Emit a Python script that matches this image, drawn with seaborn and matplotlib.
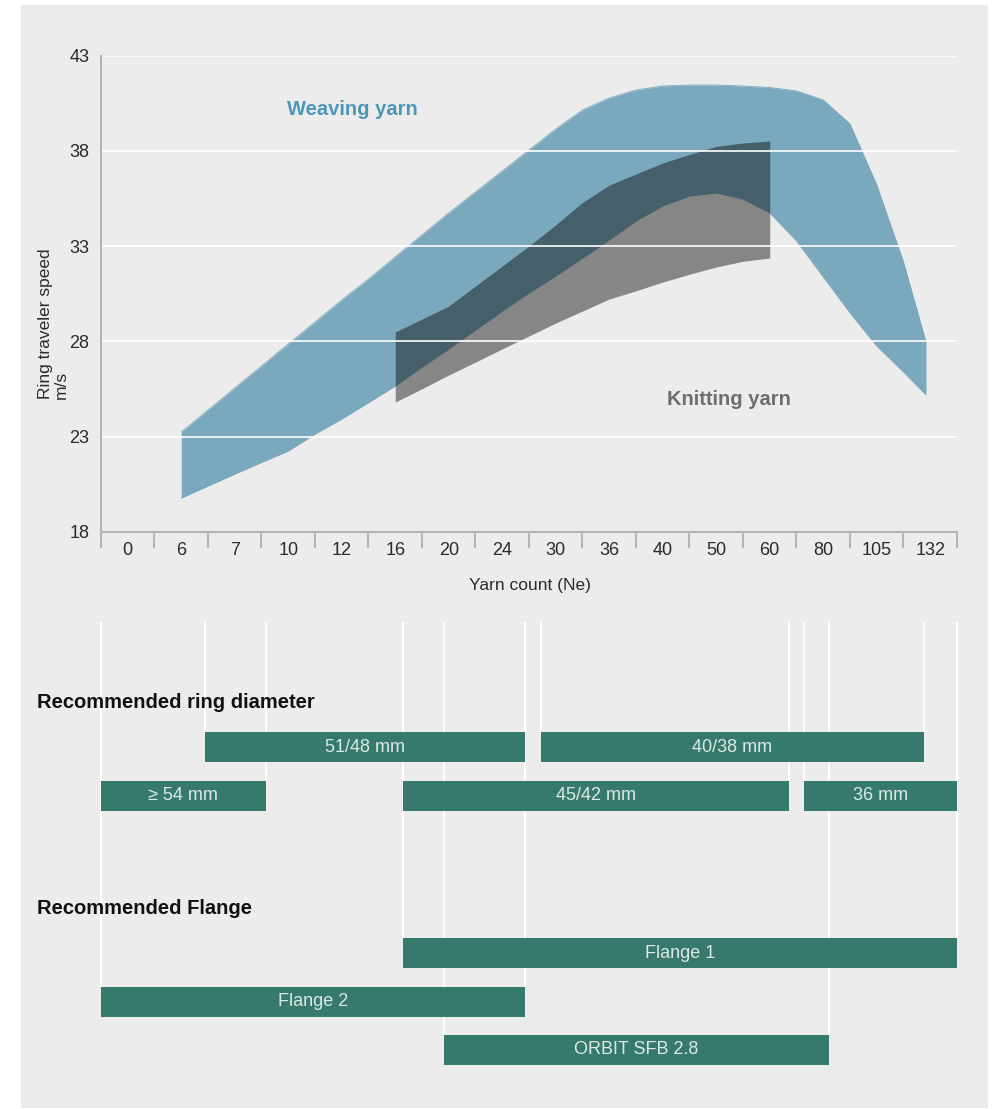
import numpy as np
import matplotlib
matplotlib.use("Agg")
import matplotlib.pyplot as plt
from matplotlib.patches import Rectangle
import seaborn as sns

# ---------------- data ----------------
categories = ['0', '6', '7', '10', '12', '16', '20', '24', '30', '36', '40', '50', '60', '80', '105', '132']

# Weaving yarn band, sampled every half category (category i spans [i, i+1])
weave_pos = [1.5, 2.0, 2.5, 3.0, 3.5, 4.0, 4.5, 5.0, 5.5, 6.0, 6.5, 7.0, 7.5, 8.0, 8.5,
             9.0, 9.5, 10.0, 10.5, 11.0, 11.5, 12.0, 12.5, 13.0, 13.5, 14.0, 14.5, 15.0, 15.42]
weave_upper = [23.25, 24.40, 25.56, 26.71, 27.87, 29.02, 30.18, 31.28, 32.44, 33.59, 34.75,
               35.85, 36.95, 38.05, 39.15, 40.15, 40.78, 41.20, 41.41, 41.46, 41.46, 41.41,
               41.33, 41.15, 40.68, 39.42, 36.22, 32.17, 27.97]
weave_lower = [19.78, 20.41, 21.04, 21.65, 22.25, 23.14, 23.93, 24.79, 25.66, 26.66, 27.61,
               28.60, 29.60, 30.55, 31.44, 32.38, 33.33, 34.33, 35.12, 35.64, 35.80, 35.48,
               34.75, 33.28, 31.39, 29.50, 27.76, 26.40, 25.20]

# Knitting yarn band
knit_pos = [5.5, 6.0, 6.5, 7.0, 7.5, 8.0, 8.5, 9.0, 9.5, 10.0, 10.5, 11.0, 11.5, 12.0, 12.5]
knit_upper = [28.50, 29.18, 29.86, 30.91, 31.96, 33.01, 34.12, 35.30, 36.21, 36.79, 37.37,
              37.82, 38.24, 38.42, 38.52]
knit_lower = [24.82, 25.52, 26.24, 26.92, 27.61, 28.29, 28.97, 29.60, 30.23, 30.66, 31.12,
              31.53, 31.91, 32.21, 32.38]

y_ticks = [18, 23, 28, 33, 38, 43]

# Recommended ring diameter (ranges on the yarn-count axis)
ring_labels = ['51/48 mm', '40/38 mm', '\u2265 54 mm', '45/42 mm', '36 mm']
ring_start = [1.94, 8.22, 0.0, 5.64, 13.14]
ring_end = [7.93, 15.38, 3.08, 12.86, 16.0]
ring_row = [0, 0, 1, 1, 1]

# Recommended flange
flange_labels = ['Flange 1', 'Flange 2', 'ORBIT SFB 2.8']
flange_start = [5.64, 0.0, 6.41]
flange_end = [16.0, 7.93, 13.61]
flange_row = [0, 1, 2]

# ---------------- style ----------------
sns.set_theme(style="white")
plt.rcParams['font.family'] = ['Liberation Sans', 'DejaVu Sans']

W, H = 995, 1109
BLUE = '#7aa8bc'
GREEN = '#367a6e'
AXCOL = '#b5b5b5'
PANEL = '#ececec'
TXT = '#2b2b2b'

fig = plt.figure(figsize=(W / 100, H / 100), dpi=100)
fig.patch.set_facecolor('white')
fig.add_artist(Rectangle((21 / W, 1 - 1108 / H), (988 - 21) / W, (1108 - 5) / H,
                         transform=fig.transFigure, facecolor=PANEL, edgecolor='none', zorder=-10))

# ---------------- main chart ----------------
ax = fig.add_axes([101 / W, 1 - 532 / H, 856 / W, 476.3 / H])
ax.set_facecolor('none')
ax.set_xlim(0, len(categories))
ax.set_ylim(y_ticks[0], y_ticks[-1])

ax.fill_between(weave_pos, weave_lower, weave_upper, color=BLUE, lw=0, zorder=1)
sns.lineplot(x=weave_pos, y=weave_upper, ax=ax, color=BLUE, lw=0.6, zorder=1)
sns.lineplot(x=weave_pos, y=weave_lower, ax=ax, color=BLUE, lw=0.6, zorder=1)
ax.fill_between(knit_pos, knit_lower, knit_upper, color='black', alpha=0.43, lw=0, zorder=1.5)

ax.hlines(y_ticks[1:], 0, len(categories), color='white', lw=1.2, zorder=2)

for s in ['top', 'right']:
    ax.spines[s].set_visible(False)
for s in ['left', 'bottom']:
    ax.spines[s].set_color(AXCOL)
    ax.spines[s].set_linewidth(1.5)
    ax.spines[s].set_zorder(3)

ax.set_yticks(y_ticks)
ax.set_yticklabels([str(v) for v in y_ticks])
ax.tick_params(axis='y', left=True, length=0, pad=8.5, labelsize=13, labelcolor=TXT)

ax.set_xticks(np.arange(len(categories)) + 0.5)
ax.set_xticklabels(categories)
ax.set_xticks(np.arange(len(categories) + 1), minor=True)
ax.tick_params(axis='x', which='major', bottom=True, length=0, pad=7, labelsize=13, labelcolor=TXT)
ax.tick_params(axis='x', which='minor', bottom=True, length=11.5, width=1.5, color=AXCOL,
               direction='out')
ax.set_xlabel('')
ax.set_ylabel('')

ax.text(4.69, 40.15, 'Weaving yarn', color='#4c97b8', fontsize=14.5, fontweight='bold',
        ha='center', va='center', zorder=4)
ax.text(11.74, 24.98, 'Knitting yarn', color='#6d6d6d', fontsize=14.5, fontweight='bold',
        ha='center', va='center', zorder=4)

fig.text(530 / W, 1 - 585 / H, 'Yarn count (Ne)', ha='center', va='center', fontsize=12.5, color=TXT)
fig.text(53.5 / W, 1 - 324 / H, 'Ring traveler speed\nm/s', rotation=90, ha='center', va='center',
         multialignment='left', fontsize=12.5, linespacing=1.0, color=TXT)

# ---------------- recommendation bars ----------------
ax2 = fig.add_axes([101 / W, 1 - 1100 / H, 856 / W, 500 / H])
ax2.set_xlim(0, len(categories))
ax2.set_ylim(500, 0)
ax2.axis('off')

line_top = 22
bar_h = 30
ring_top0, flange_top0, row_gap = 132, 338, 48.5


def draw_bars(labels, starts, ends, rows, top0):
    for lab, s, e, r in zip(labels, starts, ends, rows):
        top = top0 + r * row_gap
        ax2.barh(top + bar_h / 2, e - s, left=s, height=bar_h, color=GREEN,
                 edgecolor='none', linewidth=0, zorder=2)
        ax2.vlines([s, e], line_top, top, color='white', lw=1.3, zorder=1, clip_on=False)
        ax2.text((s + e) / 2, top + bar_h / 2, lab, ha='center', va='center',
                 color='#dde9e5', fontsize=13, zorder=3)


draw_bars(ring_labels, ring_start, ring_end, ring_row, ring_top0)
draw_bars(flange_labels, flange_start, flange_end, flange_row, flange_top0)

fig.text(37 / W, 1 - 703 / H, 'Recommended ring diameter', fontsize=14.5, fontweight='bold',
         va='center', ha='left', color='#111111')
fig.text(37 / W, 1 - 908 / H, 'Recommended Flange', fontsize=14.5, fontweight='bold',
         va='center', ha='left', color='#111111')

fig.savefig('out.png', dpi=100)
